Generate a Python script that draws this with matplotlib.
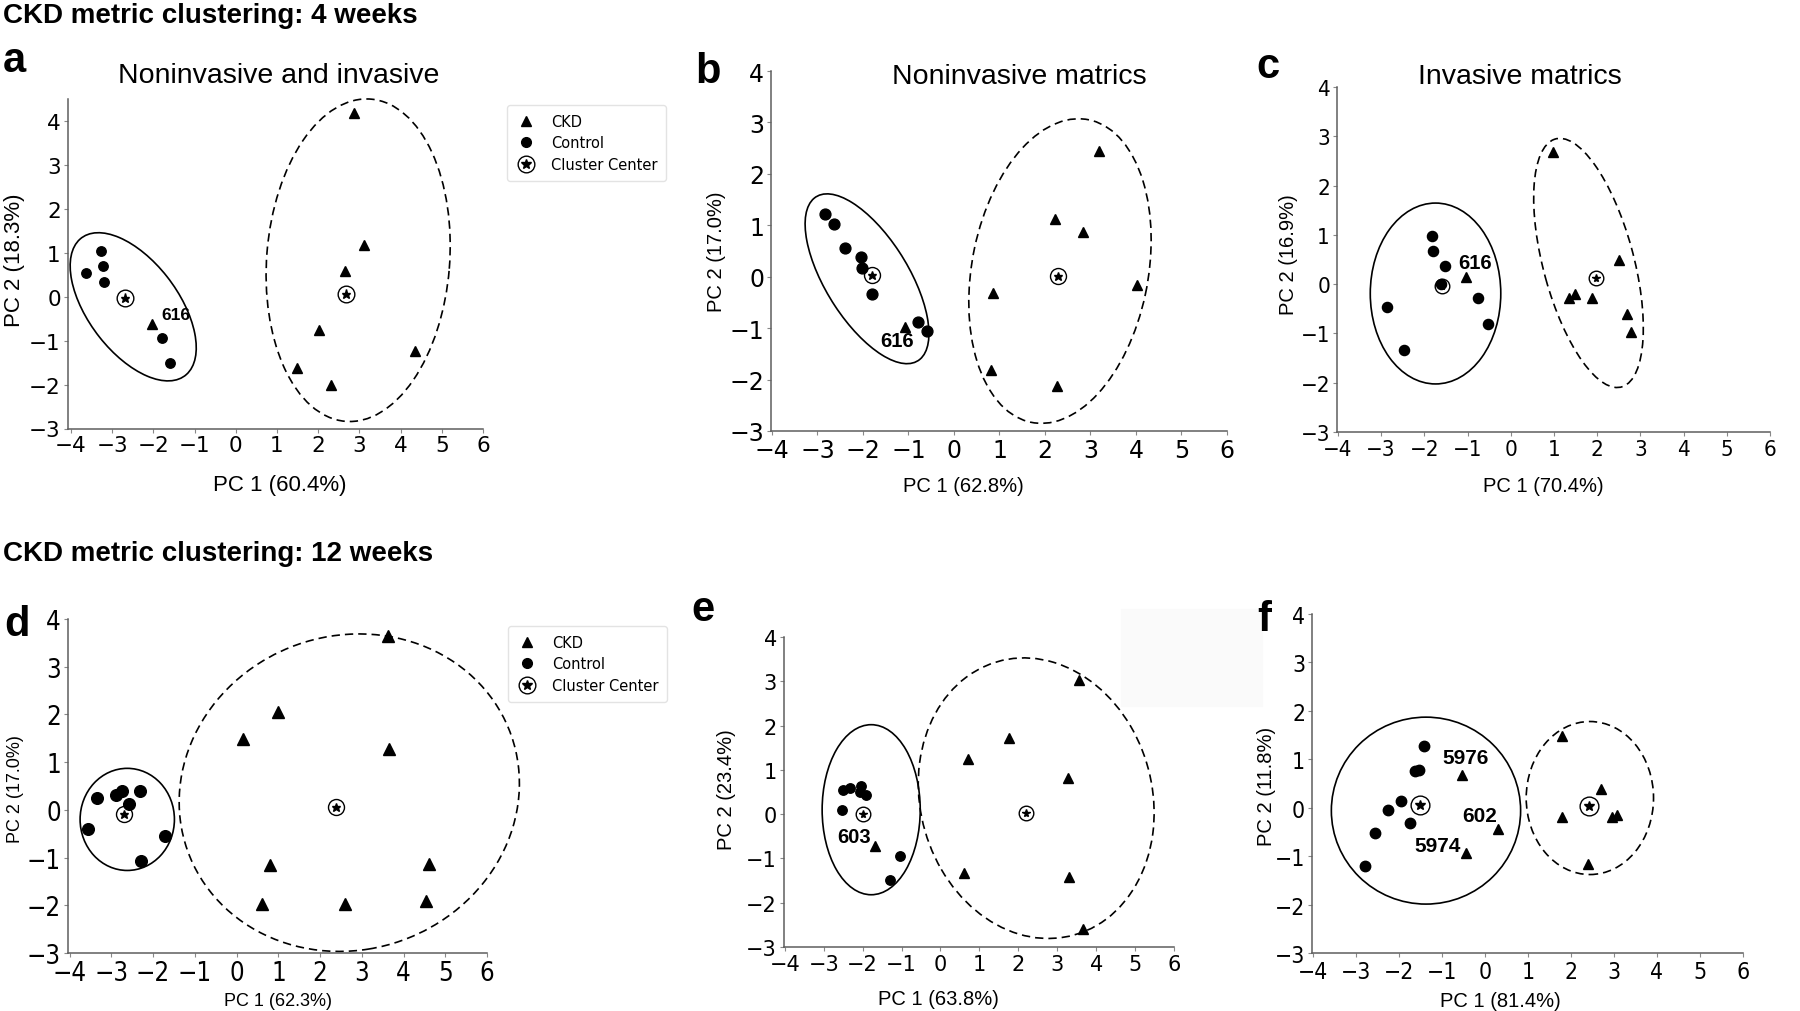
import matplotlib.pyplot as plt
from matplotlib.patches import Ellipse, Rectangle
from matplotlib.lines import Line2D

W, H = 1800, 1012

# ---- values (PC1, PC2 scores) ----
# a: 4 weeks, noninvasive and invasive
ctrl_a_x = [-3.64, -3.28, -3.23, -3.20, -1.78, -1.60]
ctrl_a_y = [0.54, 1.04, 0.71, 0.33, -0.94, -1.50]
ckd_a_x = [-2.03, 2.87, 3.10, 2.66, 2.01, 1.48, 2.31, 4.36]
ckd_a_y = [-0.63, 4.19, 1.18, 0.58, -0.76, -1.62, -2.00, -1.24]
cen_a_x = [-2.69, 2.68]
cen_a_y = [-0.03, 0.06]
ell_a = [[-2.49, -0.23, 4.02, 2.14, -50], [2.97, 0.83, 7.36, 4.44, 85]]
lab_a = ['616']
lab_a_x = [-1.45]
lab_a_y = [-0.41]

# b: 4 weeks, noninvasive
ctrl_b_x = [-2.84, -2.63, -2.39, -2.04, -2.01, -1.80, -0.80, -0.59]
ctrl_b_y = [1.21, 1.03, 0.55, 0.39, 0.16, -0.33, -0.88, -1.05]
ckd_b_x = [-1.07, 0.85, 0.81, 3.18, 2.23, 2.84, 4.02, 2.26]
ckd_b_y = [-0.97, -0.31, -1.82, 2.45, 1.13, 0.86, -0.17, -2.13]
cen_b_x = [-1.80, 2.29]
cen_b_y = [0.03, 0.02]
ell_b = [[-1.91, -0.04, 3.90, 1.76, -53.4], [2.33, 0.11, 6.02, 3.86, 76.5]]
lab_b = ['616']
lab_b_x = [-1.25]
lab_b_y = [-1.25]

# c: 4 weeks, invasive
ctrl_c_x = [-1.82, -1.79, -1.51, -1.62, -2.86, -0.76, -0.53, -2.47]
ctrl_c_y = [0.98, 0.68, 0.37, 0.01, -0.46, -0.28, -0.81, -1.34]
ckd_c_x = [-1.03, 0.99, 2.50, 1.36, 1.49, 1.89, 2.68, 2.78]
ckd_c_y = [0.15, 2.69, 0.49, -0.28, -0.19, -0.28, -0.61, -0.97]
cen_c_x = [-1.60, 1.98]
cen_c_y = [-0.03, 0.12]
ell_c = [[-1.74, -0.19, 3.02, 3.67, 0], [1.80, 0.43, 5.26, 2.08, -72.5]]
lab_c = ['616']
lab_c_x = [-0.83]
lab_c_y = [0.44]

# d: 12 weeks, noninvasive and invasive
ctrl_d_x = [-3.35, -3.55, -2.90, -2.75, -2.32, -2.59, -1.71, -2.29]
ctrl_d_y = [0.24, -0.40, 0.31, 0.39, 0.39, 0.13, -0.55, -1.08]
ckd_d_x = [3.63, 0.98, 0.16, 3.65, 0.81, 4.61, 0.60, 2.60, 4.53]
ckd_d_y = [3.65, 2.05, 1.48, 1.27, -1.15, -1.13, -1.97, -1.97, -1.92]
cen_d_x = [-2.70, 2.39]
cen_d_y = [-0.08, 0.06]
ell_d = [[-2.62, -0.20, 2.26, 2.14, 0], [2.70, 0.36, 8.18, 6.62, 8]]
lab_d = []
lab_d_x = []
lab_d_y = []

# e: 12 weeks, noninvasive
ctrl_e_x = [-2.50, -2.33, -2.03, -2.06, -1.92, -2.52, -1.03, -1.30]
ctrl_e_y = [0.54, 0.58, 0.64, 0.50, 0.44, 0.09, -0.94, -1.48]
ckd_e_x = [-1.69, 0.71, 1.77, 3.57, 3.28, 0.60, 3.30, 3.65]
ckd_e_y = [-0.72, 1.25, 1.72, 3.04, 0.82, -1.32, -1.42, -2.59]
cen_e_x = [-1.99, 2.19]
cen_e_y = [0.00, 0.03]
ell_e = [[-1.78, 0.10, 2.52, 3.84, 0], [2.46, 0.36, 6.54, 5.84, -56.6]]
lab_e = ['603']
lab_e_x = [-2.23]
lab_e_y = [-0.51]

# f: 12 weeks, invasive
ctrl_f_x = [-1.42, -1.63, -1.53, -1.96, -2.26, -1.74, -2.56, -2.79]
ctrl_f_y = [1.28, 0.75, 0.78, 0.14, -0.05, -0.31, -0.53, -1.20]
ckd_f_x = [-0.53, 0.31, -0.43, 1.79, 2.70, 1.79, 2.96, 3.06, 2.40]
ckd_f_y = [0.67, -0.43, -0.93, 1.48, 0.38, -0.19, -0.19, -0.16, -1.17]
cen_f_x = [-1.51, 2.43]
cen_f_y = [0.05, 0.03]
ell_f = [[-1.37, -0.06, 4.40, 3.86, 0], [2.44, 0.20, 2.96, 3.16, 0]]
lab_f = ['5976', '602', '5974']
lab_f_x = [-0.45, -0.12, -1.09]
lab_f_y = [1.03, -0.17, -0.78]

xticks = [-4, -3, -2, -1, 0, 1, 2, 3, 4, 5, 6]
yticks = [-3, -2, -1, 0, 1, 2, 3, 4]

ARIAL = 'Liberation Sans'

fig = plt.figure(figsize=(W / 100, H / 100), dpi=100)


def px(x, y):
    # pixel position -> figure fraction
    return x / W, 1 - y / H


def panel(box, xlim, ylim, cx, cy, kx, ky, ex, ey, ells, labs, lx, ly,
          tick_fs=15, ms=7, cms=12, lab_fs=14, stretch='normal'):
    x0, top, x1, bot = box
    ax = fig.add_axes([x0 / W, 1 - bot / H, (x1 - x0) / W, (bot - top) / H])
    ax.set_facecolor('none')
    ax.set_xlim(xlim)
    ax.set_ylim(ylim)
    ax.set_xticks(xticks)
    ax.set_yticks(yticks)
    for s in ['top', 'right']:
        ax.spines[s].set_visible(False)
    for s in ['left', 'bottom']:
        ax.spines[s].set_color('#5e5e5e')
        ax.spines[s].set_linewidth(1.1)
    ax.tick_params(length=3, width=0.8, color='#888888', labelsize=tick_fs, pad=2)
    for t in ax.get_xticklabels() + ax.get_yticklabels():
        t.set_fontstretch(stretch)

    # cluster ellipses: first solid (control), second dashed (CKD)
    for e, ls in zip(ells, ['-', (0, (5, 3))]):
        ax.add_patch(Ellipse((e[0], e[1]), e[2], e[3], angle=e[4], fill=False,
                             ec='k', lw=1.2, ls=ls, clip_on=False))

    ax.plot(cx, cy, 'o', color='k', ms=ms, ls='none', clip_on=False)
    ax.plot(kx, ky, '^', color='k', ms=ms, ls='none', clip_on=False)
    ax.plot(ex, ey, 'o', mfc='none', mec='k', mew=1.0, ms=cms, ls='none')
    ax.plot(ex, ey, '*', color='k', ms=cms * 0.55, ls='none')

    for t, x, y in zip(labs, lx, ly):
        ax.text(x, y, t, fontsize=lab_fs, fontweight='bold', family=ARIAL,
                ha='center', va='center')
    return ax


panel((67.7, 100, 483, 429.5), (-4.08, 6), (-3, 4.5), ctrl_a_x, ctrl_a_y, ckd_a_x, ckd_a_y,
      cen_a_x, cen_a_y, ell_a, lab_a, lab_a_x, lab_a_y, tick_fs=15.5, ms=6.8, cms=12, lab_fs=12.5)
panel((771, 72, 1227, 432), (-4.02, 6), (-3, 4), ctrl_b_x, ctrl_b_y, ckd_b_x, ckd_b_y,
      cen_b_x, cen_b_y, ell_b, lab_b, lab_b_x, lab_b_y, tick_fs=17, ms=7.8, cms=11.5, lab_fs=14.5)
panel((1337, 88, 1770, 433), (-4.02, 6), (-3, 4), ctrl_c_x, ctrl_c_y, ckd_c_x, ckd_c_y,
      cen_c_x, cen_c_y, ell_c, lab_c, lab_c_x, lab_c_y, tick_fs=16, ms=7.3, cms=10.5,
      lab_fs=14.5, stretch='condensed')
panel((68, 620, 487, 954), (-4.04, 6), (-3, 4), ctrl_d_x, ctrl_d_y, ckd_d_x, ckd_d_y,
      cen_d_x, cen_d_y, ell_d, lab_d, lab_d_x, lab_d_y, tick_fs=18.5, ms=8.4, cms=11.5,
      stretch='condensed')
panel((784, 638, 1174, 948), (-4.02, 6), (-3, 4), ctrl_e_x, ctrl_e_y, ckd_e_x, ckd_e_y,
      cen_e_x, cen_e_y, ell_e, lab_e, lab_e_x, lab_e_y, tick_fs=15, ms=6.8, cms=10.5, lab_fs=14.5)
panel((1312, 615, 1743, 954), (-4.02, 6), (-3, 4), ctrl_f_x, ctrl_f_y, ckd_f_x, ckd_f_y,
      cen_f_x, cen_f_y, ell_f, lab_f, lab_f_x, lab_f_y, tick_fs=16.5, ms=7.5, cms=13.5,
      lab_fs=15, stretch='condensed')

# axis labels
xlabs = ['PC 1 (60.4%)', 'PC 1 (62.8%)', 'PC 1 (70.4%)', 'PC 1 (62.3%)', 'PC 1 (63.8%)', 'PC 1 (81.4%)']
ylabs = ['PC 2 (18.3%)', 'PC 2 (17.0%)', 'PC 2 (16.9%)', 'PC 2 (17.0%)', 'PC 2 (23.4%)', 'PC 2 (11.8%)']
xlab_pos = [(280, 485), (963, 487), (1543, 487), (278, 1002), (938, 1000), (1500, 1002)]
ylab_pos = [(15, 260), (716, 252), (1288, 255), (16, 789), (727, 790), (1266, 786)]
lab_sizes = [16, 14.5, 14.5, 13, 14.5, 14.5]
for i in range(6):
    fig.text(*px(*xlab_pos[i]), xlabs[i], family=ARIAL, fontsize=lab_sizes[i],
             ha='center', va='center')
    fig.text(*px(*ylab_pos[i]), ylabs[i], family=ARIAL, fontsize=lab_sizes[i],
             ha='center', va='center', rotation=90)

# panel titles
fig.text(*px(279, 76), 'Noninvasive and invasive', family=ARIAL, fontsize=20.5, ha='center', va='center')
fig.text(*px(1019, 77), 'Noninvasive matrics', family=ARIAL, fontsize=20.5, ha='center', va='center')
fig.text(*px(1520, 77), 'Invasive matrics', family=ARIAL, fontsize=20.5, ha='center', va='center')

# section headers and panel letters
fig.text(*px(3, 16), 'CKD metric clustering: 4 weeks', family=ARIAL, fontsize=20,
         fontweight='bold', va='center')
fig.text(*px(3, 554), 'CKD metric clustering: 12 weeks', family=ARIAL, fontsize=20,
         fontweight='bold', va='center')
letters = ['a', 'b', 'c', 'd', 'e', 'f']
letter_pos = [(3, 72), (695, 83), (1256, 78), (4, 636), (691, 621), (1257, 631)]
for t, p in zip(letters, letter_pos):
    fig.text(*px(*p), t, family=ARIAL, fontsize=30, fontweight='bold', va='baseline')

# legends (outside panels a and d)
h_ckd = Line2D([], [], ls='none', marker='^', color='k', ms=7)
h_ctrl = Line2D([], [], ls='none', marker='o', color='k', ms=7)
h_cen = (Line2D([], [], ls='none', marker='o', mfc='none', mec='k', ms=12, mew=1),
         Line2D([], [], ls='none', marker='*', color='k', ms=7))
for lx, ly in [(507, 106), (508, 627)]:
    fig.legend([h_ckd, h_ctrl, h_cen], ['CKD', 'Control', 'Cluster Center'],
               loc='upper left', bbox_to_anchor=px(lx, ly), borderaxespad=0,
               fontsize=10.5, handlelength=1.4, handletextpad=1.0, labelspacing=0.45,
               borderpad=0.6, edgecolor='#dddddd')

# faint grey patch present in the source image
fig.patches.append(Rectangle(px(1121, 707), 141 / W, 97 / H, transform=fig.transFigure,
                             color='#fafafa', zorder=-1))

fig.savefig('out.png', dpi=100, facecolor='white')
